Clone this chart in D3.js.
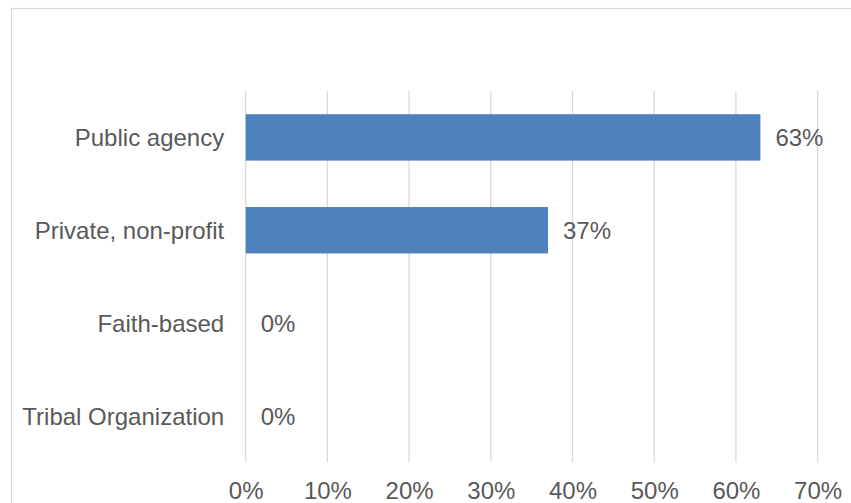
<!DOCTYPE html>
<html>
<head>
<meta charset="utf-8">
<script src="https://cdn.jsdelivr.net/npm/d3@7/dist/d3.min.js"></script>
<style>
  html, body { margin: 0; padding: 0; background: #fff; }
  svg { display: block; }
  text { font-family: "Liberation Sans", Arial, sans-serif; fill: #595959; }
</style>
</head>
<body>
<svg id="chart" width="851" height="503"></svg>
<script>
// Organization types and their share of respondents (%)
const categories = ["Public agency", "Private, non-profit", "Faith-based", "Tribal Organization"];
const shares = [63, 37, 0, 0];
const tickValues = [0, 10, 20, 30, 40, 50, 60, 70];

const W = 851, H = 503;
const FONT = "\"Liberation Sans\", Arial, sans-serif";
const svg = d3.select("#chart");

// Outer chart frame (extends past the visible area on the right and bottom)
svg.append("rect")
  .attr("x", 11.5).attr("y", 8.5)
  .attr("width", W + 20).attr("height", H + 20)
  .attr("fill", "none")
  .attr("stroke", "#d9d9d9")
  .attr("stroke-width", 1.2);

const plot = { left: 245.7, right: 817.6, top: 91, bottom: 462.3 };

const x = d3.scaleLinear().domain([0, 70]).range([plot.left, plot.right]);
const y = d3.scaleBand().domain(categories).range([plot.top, plot.bottom]).paddingInner(0.5).paddingOuter(0.25);

// Vertical gridlines
svg.append("g")
  .selectAll("line")
  .data(tickValues)
  .join("line")
  .attr("x1", d => x(d)).attr("x2", d => x(d))
  .attr("y1", plot.top).attr("y2", plot.bottom)
  .attr("stroke", "#d9d9d9")
  .attr("stroke-width", 1.3);

// Bottom axis labels
const xAxis = d3.axisBottom(x)
  .tickValues(tickValues)
  .tickFormat(d => d + "%")
  .tickSize(0)
  .tickPadding(0);
const gx = svg.append("g")
  .attr("transform", `translate(0,${plot.bottom})`)
  .call(xAxis);
gx.select(".domain").remove();
gx.selectAll("text")
  .attr("y", 36.5)
  .attr("dy", 0)
  .style("font-size", "24px")
  .style("fill", "#595959")
  .style("font-family", FONT);

// Category labels on the left
const yAxis = d3.axisLeft(y).tickSize(0).tickPadding(0);
const gy = svg.append("g")
  .attr("transform", `translate(${plot.left - 21.5},0)`)
  .call(yAxis);
gy.select(".domain").remove();
gy.selectAll("text")
  .attr("dy", "0.36em")
  .style("font-size", "24px")
  .style("fill", "#595959")
  .style("font-family", FONT);

// Bars
const rows = categories.map((c, i) => ({ cat: c, value: shares[i] }));
svg.append("g")
  .selectAll("rect")
  .data(rows)
  .join("rect")
  .attr("x", x(0))
  .attr("y", d => y(d.cat))
  .attr("width", d => x(d.value) - x(0))
  .attr("height", y.bandwidth())
  .attr("fill", "#4f81bd");

// Value labels at the bar ends
svg.append("g")
  .selectAll("text")
  .data(rows)
  .join("text")
  .attr("x", d => x(d.value) + 15)
  .attr("y", d => y(d.cat) + y.bandwidth() / 2)
  .attr("dy", "0.36em")
  .style("font-size", "24px")
  .text(d => d.value + "%");
</script>
</body>
</html>
